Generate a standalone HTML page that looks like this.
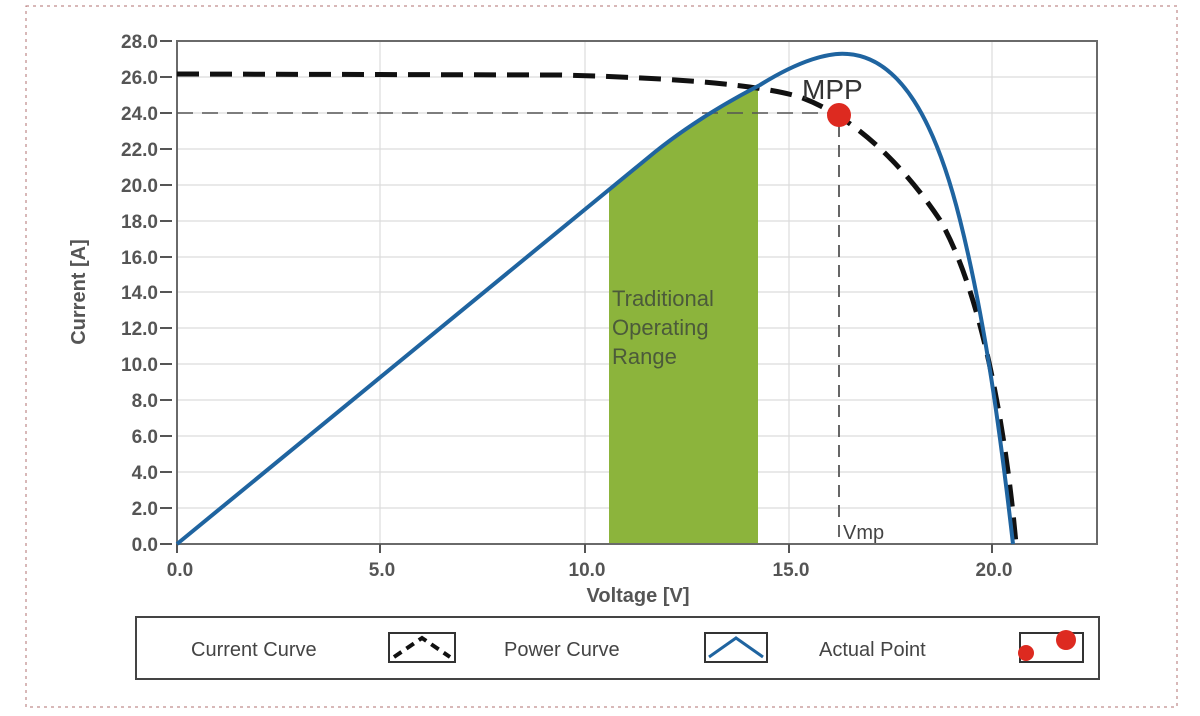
<!DOCTYPE html>
<html><head><meta charset="utf-8"><style>
html,body{margin:0;padding:0;background:#fff;}
svg{display:block;font-family:"Liberation Sans",sans-serif;}
</style></head><body>
<svg width="1200" height="716" viewBox="0 0 1200 716">
<rect x="26" y="6" width="1151" height="701" fill="none" stroke="#b07070" stroke-width="1" stroke-dasharray="3,4"/>
<g stroke="#dcdcdc" stroke-width="1.2">
<line x1="177" x2="1097" y1="508" y2="508"/><line x1="177" x2="1097" y1="472" y2="472"/>
<line x1="177" x2="1097" y1="436" y2="436"/><line x1="177" x2="1097" y1="400" y2="400"/>
<line x1="177" x2="1097" y1="364" y2="364"/><line x1="177" x2="1097" y1="328" y2="328"/>
<line x1="177" x2="1097" y1="292" y2="292"/><line x1="177" x2="1097" y1="257" y2="257"/>
<line x1="177" x2="1097" y1="221" y2="221"/><line x1="177" x2="1097" y1="185" y2="185"/>
<line x1="177" x2="1097" y1="149" y2="149"/><line x1="177" x2="1097" y1="113" y2="113"/>
<line x1="177" x2="1097" y1="77" y2="77"/>
<line x1="380" x2="380" y1="41" y2="544"/><line x1="585" x2="585" y1="41" y2="544"/>
<line x1="789" x2="789" y1="41" y2="544"/><line x1="992" x2="992" y1="41" y2="544"/>
</g>
<path d="M609,544 L609,191 L655,152 Q700,116 758,87 L758,544 Z" fill="#8cb43c"/>
<text font-size="22" fill="#4b5a3a"><tspan x="612" y="306">Traditional</tspan><tspan x="612" y="335">Operating</tspan><tspan x="612" y="364">Range</tspan></text>
<rect x="177" y="41" width="920" height="503" fill="none" stroke="#6a6a6a" stroke-width="2"/>
<g fill="#555" font-size="19" font-weight="bold" text-anchor="end">
<text x="158" y="551">0.0</text><text x="158" y="515">2.0</text><text x="158" y="479">4.0</text>
<text x="158" y="443">6.0</text><text x="158" y="407">8.0</text><text x="158" y="371">10.0</text>
<text x="158" y="335">12.0</text><text x="158" y="299">14.0</text><text x="158" y="264">16.0</text>
<text x="158" y="228">18.0</text><text x="158" y="192">20.0</text><text x="158" y="156">22.0</text>
<text x="158" y="120">24.0</text><text x="158" y="84">26.0</text><text x="158" y="48">28.0</text>
</g>
<g stroke="#555" stroke-width="2">
<line x1="160" x2="172" y1="544" y2="544"/><line x1="160" x2="172" y1="508" y2="508"/><line x1="160" x2="172" y1="472" y2="472"/>
<line x1="160" x2="172" y1="436" y2="436"/><line x1="160" x2="172" y1="400" y2="400"/><line x1="160" x2="172" y1="364" y2="364"/>
<line x1="160" x2="172" y1="328" y2="328"/><line x1="160" x2="172" y1="292" y2="292"/><line x1="160" x2="172" y1="257" y2="257"/>
<line x1="160" x2="172" y1="221" y2="221"/><line x1="160" x2="172" y1="185" y2="185"/><line x1="160" x2="172" y1="149" y2="149"/>
<line x1="160" x2="172" y1="113" y2="113"/><line x1="160" x2="172" y1="77" y2="77"/><line x1="160" x2="172" y1="41" y2="41"/>
<line x1="177" x2="177" y1="544" y2="553"/><line x1="380" x2="380" y1="544" y2="553"/><line x1="585" x2="585" y1="544" y2="553"/>
<line x1="789" x2="789" y1="544" y2="553"/><line x1="992" x2="992" y1="544" y2="553"/>
</g>
<g fill="#555" font-size="19" font-weight="bold" text-anchor="middle">
<text x="180" y="576">0.0</text><text x="382" y="576">5.0</text><text x="587" y="576">10.0</text>
<text x="791" y="576">15.0</text><text x="994" y="576">20.0</text>
</g>
<text x="638" y="602" font-size="20" font-weight="bold" fill="#555" text-anchor="middle">Voltage [V]</text>
<text transform="translate(85,292) rotate(-90)" font-size="20" font-weight="bold" fill="#555" text-anchor="middle">Current [A]</text>
<line x1="177" x2="830" y1="113" y2="113" stroke="#555" stroke-width="1.5" stroke-dasharray="16,9"/>
<line x1="839" x2="839" y1="125" y2="544" stroke="#666" stroke-width="2" stroke-dasharray="12,8"/>
<text x="843" y="539" font-size="20" fill="#444">Vmp</text>
<path d="M177,74 L560,75 C680,78 760,85 800,97 C850,115 900,160 940,220 C980,290 1005,420 1016,544" fill="none" stroke="#111" stroke-width="5" stroke-dasharray="22,11"/>
<path d="M177,544 L655,152 Q700,116 760,85 C800,60 830,52 848,54 C900,58 935,120 960,220 C985,320 1000,430 1013,544" fill="none" stroke="#1f64a0" stroke-width="4" stroke-linejoin="round"/>
<circle cx="839" cy="115" r="12" fill="#dd2a20"/>
<text x="802" y="99" font-size="28" fill="#333">MPP</text>
<rect x="136" y="617" width="963" height="62" fill="#fff" stroke="#444" stroke-width="2"/>
<g font-size="20" fill="#444">
<text x="191" y="656">Current Curve</text><text x="504" y="656">Power Curve</text><text x="819" y="656">Actual Point</text>
</g>
<rect x="389" y="633" width="66" height="29" fill="none" stroke="#333" stroke-width="2"/>
<path d="M394,657 L422,638 L450,657" fill="none" stroke="#111" stroke-width="4" stroke-dasharray="9,6"/>
<rect x="705" y="633" width="62" height="29" fill="none" stroke="#333" stroke-width="2"/>
<path d="M709,657 L736,638 L763,657" fill="none" stroke="#1f64a0" stroke-width="3"/>
<rect x="1020" y="633" width="63" height="29" fill="none" stroke="#333" stroke-width="2"/>
<circle cx="1026" cy="653" r="8" fill="#dd2a20"/><circle cx="1066" cy="640" r="10" fill="#dd2a20"/>
</svg>
</body></html>
